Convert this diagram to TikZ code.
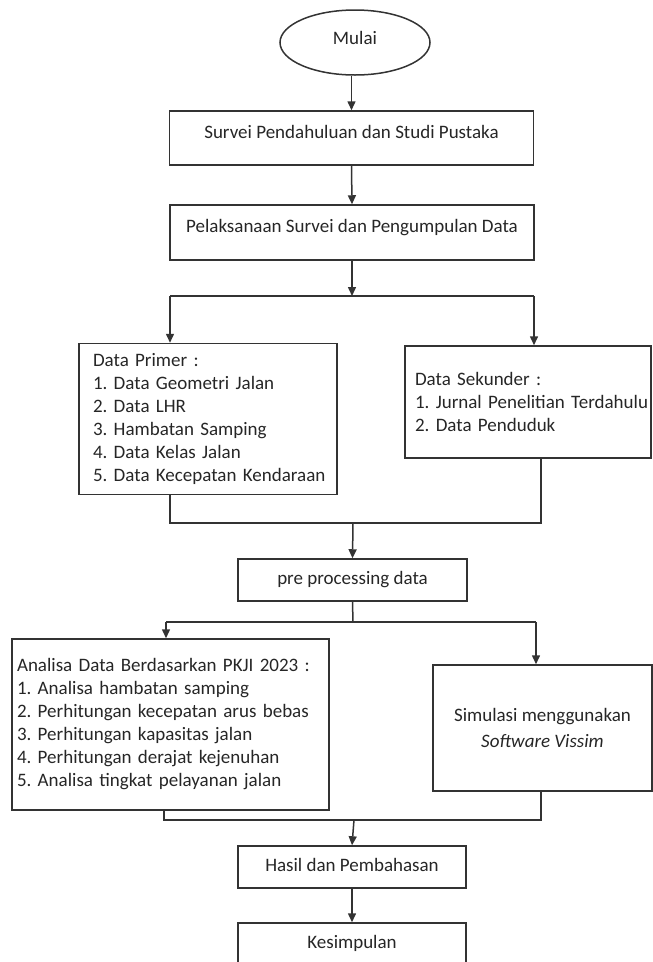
\documentclass[tikz,border=0pt]{standalone}
\usepackage{fontspec}
\setmainfont{Carlito}
\usetikzlibrary{shapes.geometric,arrows.meta}
\frenchspacing
\begin{document}
\begin{tikzpicture}[x=1pt,y=-1pt,
  line width=1.5pt,
  every node/.style={font=\fontsize{19}{23}\selectfont, text=black!85},
  box/.style={draw=black!80, rectangle, inner xsep=2pt, inner ysep=0pt},
  onel/.style={text height=14pt, text depth=#1},
  listbox/.style={box, align=left},
  arr/.style={draw=black!80, -{Triangle[length=9pt,width=8pt]}},
  ln/.style={draw=black!80}
]
\useasboundingbox (0,0) rectangle (653,962);

\node[draw=black!80, ellipse, minimum width=150pt, minimum height=65pt, inner sep=0pt, onel=10.4pt] (start) at (355,42.5) {Mulai};

\node[box, minimum width=364pt, minimum height=54pt, onel=14pt] (s1) at (351.5,138) {Survei Pendahuluan dan Studi Pustaka};

\node[box, minimum width=364pt, minimum height=55pt, onel=14pt] (s2) at (352,232.5) {Pelaksanaan Survei dan Pengumpulan Data};

\node[listbox, minimum width=258pt, minimum height=151pt, inner xsep=14pt, text width=230pt] (prim) at (208,419)
  {\mbox{Data Primer :}\\ \mbox{1. Data Geometri Jalan}\\ \mbox{2. Data LHR}\\ \mbox{3. Hambatan Samping}\\ \mbox{4. Data Kelas Jalan}\\ \mbox{5. Data Kecepatan Kendaraan}};

\node[listbox, minimum width=246pt, minimum height=112pt, inner xsep=10pt, text width=226pt] (sek) at (528,402)
  {\mbox{Data Sekunder :}\\ \mbox{1. Jurnal Penelitian Terdahulu}\\ \mbox{2. Data Penduduk}};

\node[box, minimum width=229pt, minimum height=42pt, onel=5.5pt] (pre) at (352.5,580) {pre processing data};

\node[listbox, minimum width=317pt, minimum height=171pt, inner xsep=5pt, text width=307pt] (ana) at (170.5,724.5)
  {\mbox{Analisa Data Berdasarkan PKJI 2023 :}\\ \mbox{1. Analisa hambatan samping}\\ \mbox{2. Perhitungan kecepatan arus bebas}\\ \mbox{3. Perhitungan kapasitas jalan}\\ \mbox{4. Perhitungan derajat kejenuhan}\\ \mbox{5. Analisa tingkat pelayanan jalan}};

\node[box, align=center, minimum width=219pt, minimum height=126pt, font=\fontsize{19}{25.7}\selectfont] (sim) at (542.5,728)
  {Simulasi menggunakan\\ \textit{Software Vissim}};

\node[box, minimum width=228pt, minimum height=42pt, onel=6pt] (hasil) at (352,867) {Hasil dan Pembahasan};

\node[box, minimum width=228pt, minimum height=42pt, onel=6pt] (kes) at (352,944) {Kesimpulan};

% junction coordinates
\coordinate (j1) at (352,296);
\coordinate (j1l) at (170,296);
\coordinate (j1r) at (534,296);
\coordinate (m1) at (353,523);
\coordinate (m1l) at (170,523);
\coordinate (m1r) at (541,523);
\coordinate (j2) at (353,622);
\coordinate (j2l) at (166,622);
\coordinate (j2r) at (536,622);
\coordinate (m2) at (354,820);
\coordinate (m2l) at (164,820);
\coordinate (m2r) at (541,820);

% connectors
\draw[arr] (s1.north |- start.south) -- (s1.north);
\draw[arr] (s1.south) -- (s2.north);
\draw[arr] (s2.south) -- (j1);
\draw[ln] (j1l) -- (j1r);
\draw[arr] (j1l) -- (j1l |- prim.north);
\draw[arr] (j1r) -- (j1r |- sek.north);

\draw[ln] (m1l |- prim.south) -- (m1l) -- (m1r) -- (m1r |- sek.south);
\draw[arr] (m1) -- (pre.north);

\draw[ln] (pre.south) -- (j2);
\draw[ln] (j2l) -- (j2r);
\draw[arr] (j2l) -- (j2l |- ana.north);
\draw[arr] (j2r) -- (j2r |- sim.north);

\draw[ln] (m2l |- ana.south) -- (m2l) -- (m2r) -- (m2r |- sim.south);
\draw[arr] (m2) -- (hasil.north);
\draw[arr] (hasil.south) -- (kes.north);
\end{tikzpicture}
\end{document}
